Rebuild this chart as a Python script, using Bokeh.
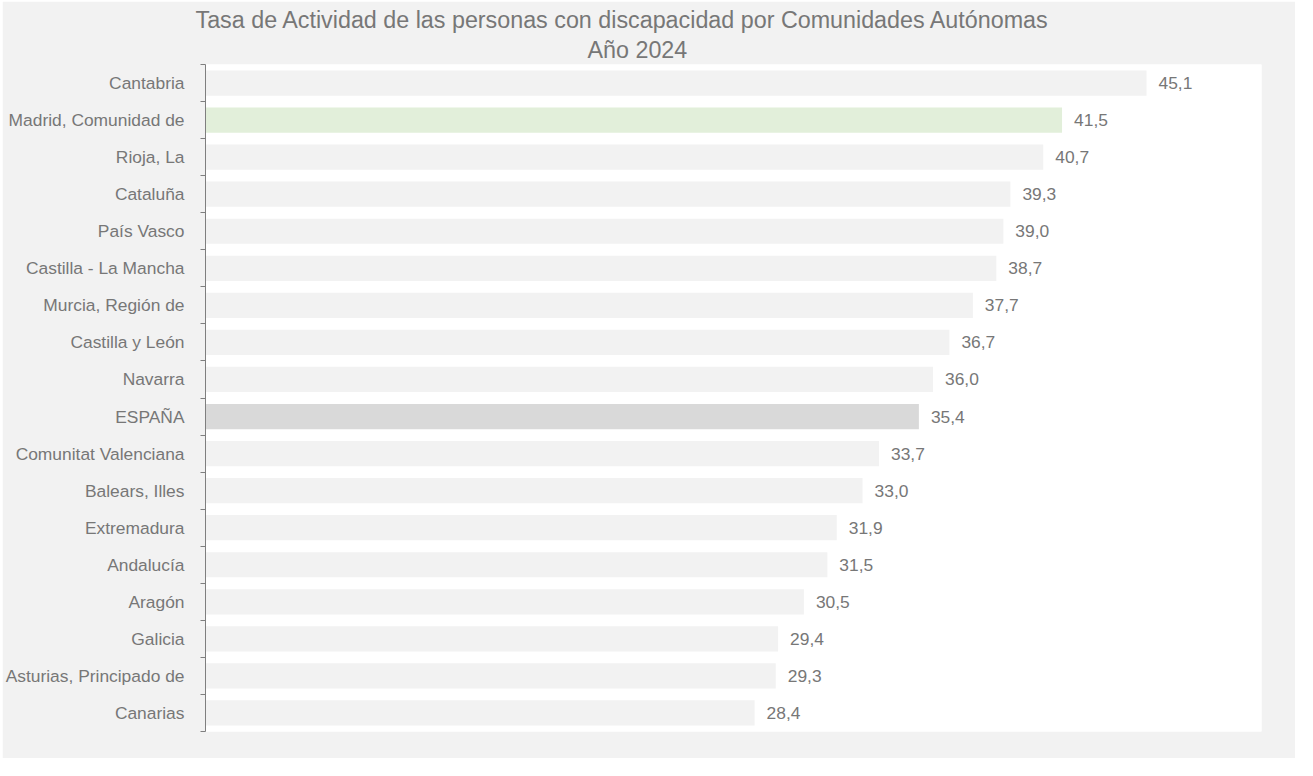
from bokeh.plotting import figure
from bokeh.models import ColumnDataSource, Range1d, FixedTicker, Title
from bokeh.core.properties import value
from bokeh.embed import file_html
from bokeh.resources import INLINE

# ---- data (top to bottom as in the chart) ----
regions = [
    "Cantabria", "Madrid, Comunidad de", "Rioja, La", "Cataluña", "País Vasco",
    "Castilla - La Mancha", "Murcia, Región de", "Castilla y León", "Navarra",
    "ESPAÑA", "Comunitat Valenciana", "Balears, Illes", "Extremadura",
    "Andalucía", "Aragón", "Galicia", "Asturias, Principado de", "Canarias",
]
rates = [45.1, 41.5, 40.7, 39.3, 39.0, 38.7, 37.7, 36.7, 36.0,
         35.4, 33.7, 33.0, 31.9, 31.5, 30.5, 29.4, 29.3, 28.4]
title_line1 = "Tasa de Actividad de las personas con discapacidad por Comunidades Autónomas"
title_line2 = "Año 2024"
highlight = {"Madrid, Comunidad de": "#e2efda", "ESPAÑA": "#d9d9d9"}

# ---- styles ----
FONT = "Liberation Sans"
TXT = "#777777"
AXIS = "#7f7f7f"
BAR = "#f2f2f2"

n = len(regions)
ypos = [n - i - 0.5 for i in range(n)]
colors = [highlight.get(r, BAR) for r in regions]
labels = [f"{v:.1f}".replace(".", ",") for v in rates]

src = ColumnDataSource(dict(y=ypos, value=rates, label=labels, color=colors, region=regions))

p = figure(
    width=1293, height=757, margin=(1, 0, 0, 2),
    x_range=Range1d(5, 50), y_range=Range1d(0, n),
    output_backend="svg", toolbar_location=None,
    x_axis_location=None, y_axis_location="left",
    min_border_left=202, min_border_top=63, min_border_right=34, min_border_bottom=27,
)
p.border_fill_color = "#f2f2f2"
p.background_fill_color = "white"
p.outline_line_color = None
p.grid.visible = False

# titles (p.title = outer line, added Title = inner line)
p.title.text = title_line1
p.title.align = "left"
p.title.offset = -10
p.title.text_font = FONT
p.title.text_font_size = "23.3px"
p.title.text_font_style = "normal"
p.title.text_color = TXT
p.title.standoff = 0

t2 = Title(text=title_line2, align="left", offset=382, text_font=FONT,
           text_font_size="23.3px", text_font_style="normal", text_color=TXT, standoff=4)
p.add_layout(t2, "above")

p.hbar(y="y", left=0, right="value", height=0.68, fill_color="color",
       line_color=None, source=src)
p.text(x="value", y="y", text="label", source=src, x_offset=12,
       text_align="left", text_baseline="middle",
       text_font=value(FONT), text_font_size=value("17.4px"), text_color=TXT)

ax = p.yaxis[0]
ax.ticker = FixedTicker(ticks=ypos, minor_ticks=[float(k) for k in range(n + 1)])
ax.major_label_overrides = {y: r for y, r in zip(ypos, regions)}
ax.major_tick_line_color = None
ax.major_tick_out = 0
ax.major_tick_in = 0
ax.minor_tick_line_color = AXIS
ax.minor_tick_out = 5
ax.minor_tick_in = 0
ax.axis_line_color = AXIS
ax.major_label_standoff = 16
ax.major_label_text_font = FONT
ax.major_label_text_font_size = "17.4px"
ax.major_label_text_color = TXT

open("out.html", "w").write(file_html(p, INLINE))
